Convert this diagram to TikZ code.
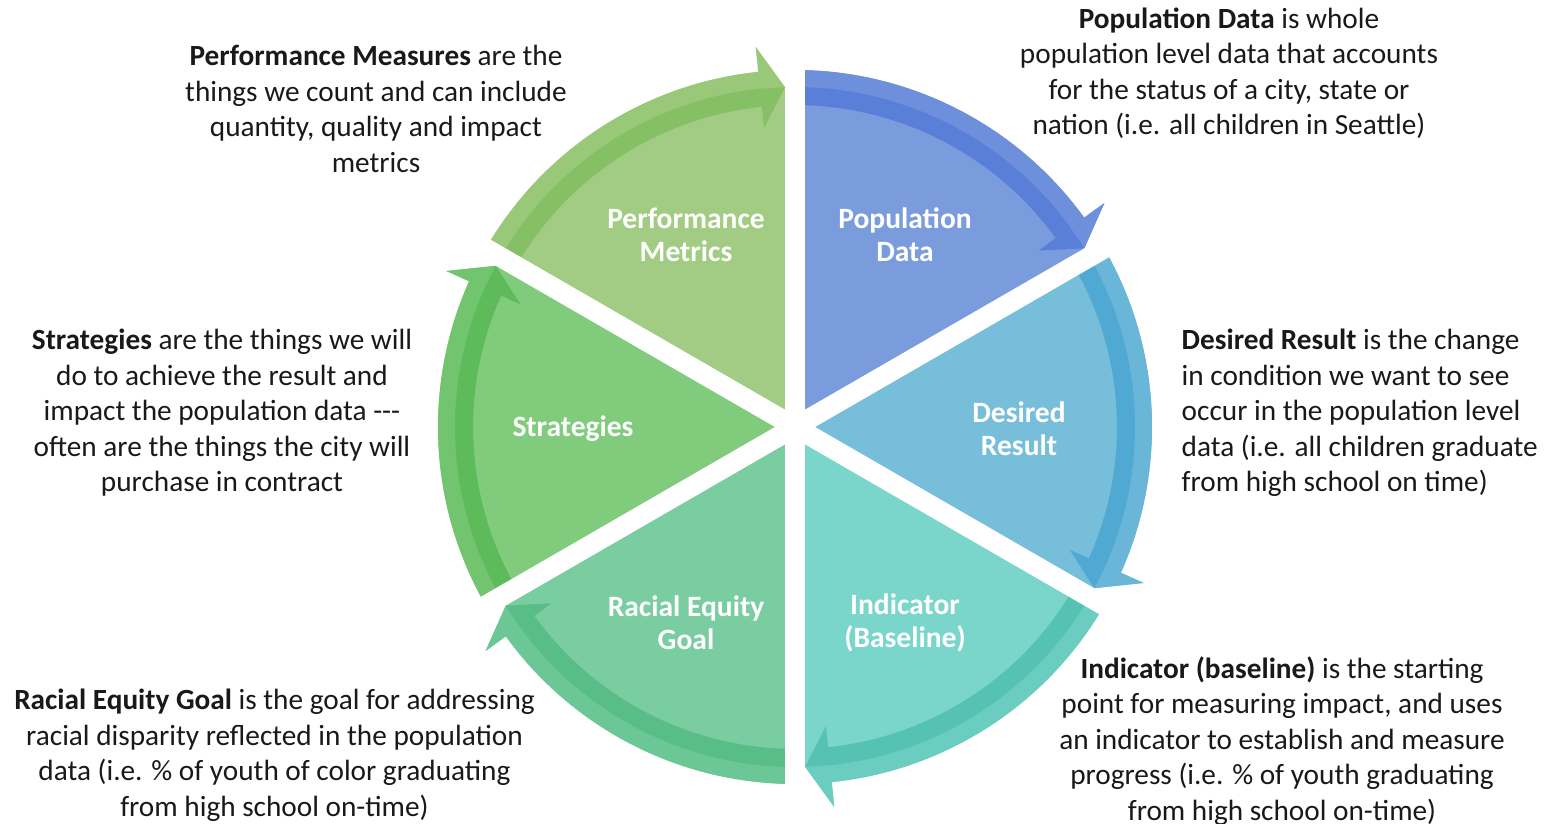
\documentclass[tikz,border=0pt]{standalone}
\usepackage{fontspec}
\setmainfont{Carlito}

\definecolor{popfill}{HTML}{7B9CDC}
\definecolor{popmid}{HTML}{6E90DC}
\definecolor{popdark}{HTML}{5A7FD8}
\definecolor{desfill}{HTML}{77BEDA}
\definecolor{desmid}{HTML}{6AB6D8}
\definecolor{desdark}{HTML}{4FA9D3}
\definecolor{indfill}{HTML}{7AD6CA}
\definecolor{indmid}{HTML}{6ACDBF}
\definecolor{inddark}{HTML}{55C2B3}
\definecolor{racfill}{HTML}{79CDA0}
\definecolor{racmid}{HTML}{6CC796}
\definecolor{racdark}{HTML}{58BD86}
\definecolor{strfill}{HTML}{80CB7C}
\definecolor{strmid}{HTML}{72C56E}
\definecolor{strdark}{HTML}{5DBB5A}
\definecolor{perffill}{HTML}{A2CC84}
\definecolor{perfmid}{HTML}{98C878}
\definecolor{perfdark}{HTML}{86C065}

% #1 start angle, #2 end angle, #3 fill, #4 arrow, #5 arrow shade
\newcommand{\cyclewedge}[5]{%
  \pgfmathsetmacro\tipang{#2+1.7}
  \pgfmathsetmacro\headang{#2+5.9}
  \fill[#3] (0,0) -- (#1:3.57) arc[start angle=#1, end angle=\headang, radius=3.57]
    -- (\headang:3.82) -- (\tipang:3.40) -- (#2:3.40) -- cycle;
  \fill[#4] (#1:3.22) arc[start angle=#1, end angle=\headang, radius=3.22]
    -- (\headang:3.01) -- (\tipang:3.40) -- (\headang:3.82) -- (\headang:3.57)
    arc[start angle=\headang, end angle=#1, radius=3.57] -- cycle;
  \fill[#5] (#1:3.22) arc[start angle=#1, end angle=\headang, radius=3.22]
    -- (\headang:3.01) -- (\tipang:3.40) -- (\headang:3.40)
    arc[start angle=\headang, end angle=#1, radius=3.40] -- cycle;
}

\tikzset{
  desc/.style={align=center, inner sep=0pt, text=black!90,
    font=\fontsize{8.33}{10.1}\selectfont},
  seglabel/.style={align=center, inner sep=0pt, text=white,
    font=\fontsize{8.4}{9.4}\selectfont\bfseries},
}

\begin{document}
\begin{tikzpicture}
  \useasboundingbox (-7.95,-3.96) rectangle (7.53,4.27);

  \cyclewedge{90}{30}{popfill}{popmid}{popdark}
  \cyclewedge{30}{-30}{desfill}{desmid}{desdark}
  \cyclewedge{-30}{-90}{indfill}{indmid}{inddark}
  \cyclewedge{-90}{-150}{racfill}{racmid}{racdark}
  \cyclewedge{210}{150}{strfill}{strmid}{strdark}
  \cyclewedge{150}{90}{perffill}{perfmid}{perfdark}

  \foreach \a in {30,90,...,330}
    \draw[white, line width=0.2cm] (0,0) -- (\a:3.62);

  \node[seglabel] (pop) at (1.10,1.92) {Population\\Data};
  \node[seglabel] (des) at (2.24,-0.02) {Desired\\Result};
  \node[seglabel] (ind) at (1.10,-1.96) {Indicator\\(Baseline)};
  \node[seglabel] (rac) at (-1.09,-1.96) {Racial Equity\\Goal};
  \node[seglabel] (str) at (-2.22,-0.02) {Strategies};
  \node[seglabel] (perf) at (-1.09,1.92) {Performance\\Metrics};

  \node[desc] (popdesc) at (4.34,3.54)
    {\textbf{Population Data} is whole\\population level data that accounts\\for the status of a city, state or\\nation (i.e. all children in Seattle)};
  \node[desc, anchor=west, align=left] (desdesc) at (3.86,0.14)
    {\textbf{Desired Result} is the change\\in condition we want to see\\occur in the population level\\data (i.e. all children graduate\\from high school on time)};
  \node[desc] (inddesc) at (4.87,-3.14)
    {\textbf{Indicator (baseline)} is the starting\\point for measuring impact, and uses\\an indicator to establish and measure\\progress (i.e. \% of youth graduating\\from high school on-time)};
  \node[desc] (racdesc) at (-5.205,-3.28)
    {\textbf{Racial Equity Goal} is the goal for addressing\\racial disparity reflected in the population\\data (i.e. \% of youth of color graduating\\from high school on-time)};
  \node[desc] (strdesc) at (-5.73,0.14)
    {\textbf{Strategies} are the things we will\\do to achieve the result and\\impact the population data -{}-{}-\\often are the things the city will\\purchase in contract};
  \node[desc] (perfdesc) at (-4.19,3.18)
    {\textbf{Performance Measures} are the\\things we count and can include\\quantity, quality and impact\\metrics};
\end{tikzpicture}
\end{document}
